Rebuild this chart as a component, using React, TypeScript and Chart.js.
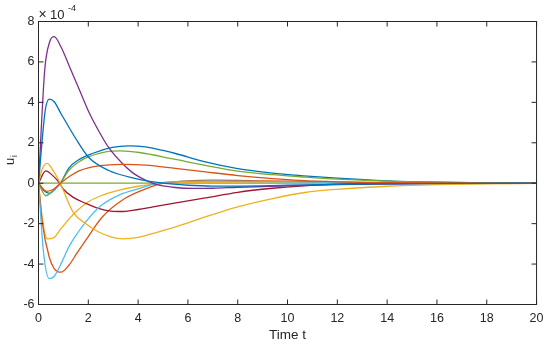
import React, { useEffect, useRef } from "react";
import { Chart, registerables } from "chart.js";

Chart.register(...registerables);

// Values in units of 1e-4
const X_TICKS = [0, 2, 4, 6, 8, 10, 12, 14, 16, 18, 20];
const Y_TICKS = [-6, -4, -2, 0, 2, 4, 6, 8];

const T_BLUE1 = [0, 0.27, 0.43, 0.63, 0.9, 1.5, 2.0, 2.8, 3.9, 5, 6, 7, 8, 10, 12, 14, 17, 20];
const V_BLUE1 = [0, 3.6, 4.16, 4.03, 3.45, 2.2, 1.3, 0.64, 0.23, 0.0, -0.1, -0.14, -0.14, -0.1, -0.06, -0.03, -0.01, 0];

const T_RED1 = [0, 0.32, 0.6, 0.88, 1.3, 1.65, 2.0, 2.5, 3.0, 3.5, 4.3, 5.5, 6.7, 8, 9.4, 10.5, 12, 14, 17, 20];
const V_RED1 = [0, -0.4, -0.3, 0, 0.38, 0.62, 0.76, 0.87, 0.92, 0.93, 0.89, 0.73, 0.56, 0.38, 0.23, 0.14, 0.07, 0.03, 0.01, 0];

const T_YELLOW1 = [0, 0.15, 0.34, 0.55, 0.87, 1.4, 1.9, 2.4, 2.9, 3.4, 4.0, 4.6, 5.4, 6.7, 8, 9.4, 10.7, 12, 14, 16, 18, 20];
const V_YELLOW1 = [0, 0.7, 0.98, 0.7, 0, -1.45, -2.0, -2.4, -2.65, -2.75, -2.68, -2.48, -2.2, -1.67, -1.17, -0.76, -0.46, -0.3, -0.15, -0.07, -0.03, -0.01];

const T_PURPLE = [0, 0.25, 0.45, 0.63, 0.9, 1.25, 1.65, 2.05, 2.55, 2.8, 3.35, 3.8, 4.3, 4.72, 5.4, 6.2, 7, 8, 10, 12, 14, 16, 20];
const V_PURPLE = [0, 5.6, 7.0, 7.25, 6.75, 5.75, 4.6, 3.45, 2.3, 1.8, 1.0, 0.5, 0.15, -0.06, -0.2, -0.26, -0.25, -0.2, -0.13, -0.07, -0.04, -0.02, 0];

const T_GREEN1 = [0, 0.29, 0.55, 0.88, 1.22, 1.62, 2.0, 2.7, 3.3, 4.05, 5.4, 6.7, 8, 9.4, 10.5, 12, 14, 16, 18, 20];
const V_GREEN1 = [0, -0.62, -0.4, 0, 0.64, 1.05, 1.3, 1.55, 1.6, 1.52, 1.2, 0.88, 0.6, 0.42, 0.32, 0.2, 0.1, 0.05, 0.02, 0];

const T_CYAN = [0, 0.2, 0.43, 0.63, 0.9, 1.22, 1.55, 1.9, 2.5, 3.3, 4.0, 4.8, 5.5, 7, 9, 11, 14, 17, 20];
const V_CYAN = [0, -3.4, -4.72, -4.6, -4.0, -3.15, -2.5, -1.91, -1.12, -0.55, -0.28, 0, 0.08, 0.1, 0.08, 0.05, 0.02, 0.01, 0];

const T_DARKRED = [0, 0.29, 0.55, 0.85, 1.0, 1.4, 1.9, 2.4, 2.9, 3.4, 4.0, 4.6, 5.4, 6.7, 8, 9.4, 10.5, 12, 14, 20];
const V_DARKRED = [0, 0.61, 0.4, 0, -0.3, -0.7, -1.0, -1.25, -1.38, -1.4, -1.3, -1.17, -1.0, -0.73, -0.45, -0.25, -0.14, -0.05, -0.01, 0];

const T_BLUE2 = [0, 0.2, 0.45, 0.7, 0.88, 1.22, 1.6, 2.16, 2.96, 3.6, 4.3, 5, 5.5, 6.7, 8, 9.4, 10.5, 12, 14, 16, 18, 20];
const V_BLUE2 = [0, -0.35, -0.5, -0.25, 0, 0.75, 1.15, 1.47, 1.77, 1.85, 1.8, 1.62, 1.47, 1.05, 0.72, 0.5, 0.38, 0.25, 0.12, 0.05, 0.02, 0.01];

const T_RED2 = [0, 0.16, 0.43, 0.63, 0.9, 1.22, 1.55, 1.9, 2.56, 3.36, 4.16, 5, 6, 7, 9, 11, 14, 17, 20];
const V_RED2 = [0, -2.0, -3.65, -4.22, -4.4, -4.06, -3.45, -2.82, -1.67, -0.84, -0.35, 0, 0.12, 0.15, 0.12, 0.08, 0.03, 0.01, 0];

const T_YELLOW2 = [0, 0.17, 0.35, 0.6, 0.9, 1.43, 1.9, 2.5, 3.2, 4.0, 4.8, 6, 8, 10, 12, 15, 20];
const V_YELLOW2 = [0, -1.9, -2.75, -2.7, -2.25, -1.5, -1.0, -0.62, -0.35, -0.15, -0.03, 0.04, 0.06, 0.05, 0.03, 0.01, 0];

const T_GREEN2 = [0, 20];
const V_GREEN2 = [0, 0];

const SERIES: [number[], number[], string][] = [
  [T_BLUE1, V_BLUE1, "#0072BD"],
  [T_RED1, V_RED1, "#D95319"],
  [T_YELLOW1, V_YELLOW1, "#EDB120"],
  [T_PURPLE, V_PURPLE, "#7E2F8E"],
  [T_GREEN1, V_GREEN1, "#77AC30"],
  [T_CYAN, V_CYAN, "#4DBEEE"],
  [T_DARKRED, V_DARKRED, "#A2142F"],
  [T_BLUE2, V_BLUE2, "#0072BD"],
  [T_RED2, V_RED2, "#D95319"],
  [T_YELLOW2, V_YELLOW2, "#EDB120"],
  [T_GREEN2, V_GREEN2, "#77AC30"],
];

const AX = "#262626";
const FONT = "Liberation Sans, Arial, Helvetica, sans-serif";

const decor = {
  id: "matlabDecor",
  afterDraw(chart: any) {
    const { ctx, chartArea: a, scales } = chart;
    const xs = scales.x;
    const ys = scales.y;
    ctx.save();
    ctx.strokeStyle = AX;
    ctx.lineWidth = 1;
    ctx.strokeRect(a.left, a.top, a.right - a.left, a.bottom - a.top);
    const tl = 5;
    ctx.beginPath();
    for (const v of X_TICKS) {
      const px = xs.getPixelForValue(v);
      ctx.moveTo(px, a.bottom);
      ctx.lineTo(px, a.bottom - tl);
      ctx.moveTo(px, a.top);
      ctx.lineTo(px, a.top + tl);
    }
    for (const v of Y_TICKS) {
      const py = ys.getPixelForValue(v);
      ctx.moveTo(a.left, py);
      ctx.lineTo(a.left + tl, py);
      ctx.moveTo(a.right, py);
      ctx.lineTo(a.right - tl, py);
    }
    ctx.stroke();

    ctx.fillStyle = AX;
    // x title
    ctx.font = `13.5px ${FONT}`;
    ctx.textAlign = "center";
    ctx.textBaseline = "alphabetic";
    ctx.fillText("Time t", (a.left + a.right) / 2, 339);

    // exponent label
    ctx.textAlign = "left";
    ctx.font = `14px ${FONT}`;
    ctx.fillText("\u00d7", a.left, 18.5);
    ctx.font = `13px ${FONT}`;
    ctx.fillText("10", a.left + 11.5, 18.5);
    ctx.font = `9px ${FONT}`;
    ctx.fillText("-4", a.left + 29.5, 10.5);

    // y title u_i
    ctx.translate(13.5, (a.top + a.bottom) / 2);
    ctx.rotate(-Math.PI / 2);
    ctx.font = `13px ${FONT}`;
    ctx.textAlign = "left";
    ctx.fillText("u", -2, 0);
    const uw = ctx.measureText("u").width;
    ctx.font = `9.5px ${FONT}`;
    ctx.fillText("i", -2 + uw + 0.5, 3);
    ctx.restore();
  },
};

export default function App() {
  const ref = useRef<HTMLCanvasElement | null>(null);
  useEffect(() => {
    if (!ref.current) return;
    const datasets = SERIES.map(([t, v, c]) => ({
      data: t.map((x, i) => ({ x, y: v[i] })),
      borderColor: c,
      backgroundColor: c,
      borderWidth: 1.3,
      pointRadius: 0,
      fill: false,
      cubicInterpolationMode: "monotone" as const,
    }));
    const tickFont = { family: FONT, size: 12.5 };
    const chart = new Chart(ref.current, {
      type: "line",
      data: { datasets },
      plugins: [decor],
      options: {
        animation: false,
        responsive: false,
        devicePixelRatio: 1,
        layout: { padding: { top: 21.5, right: 11.5, left: 0, bottom: 0 } },
        plugins: { legend: { display: false }, tooltip: { enabled: false } },
        scales: {
          x: {
            type: "linear",
            min: 0,
            max: 20,
            afterBuildTicks: (s: any) => {
              s.ticks = X_TICKS.map((value) => ({ value }));
            },
            ticks: { color: AX, font: tickFont, padding: 6.5, maxRotation: 0, autoSkip: false },
            grid: { display: false, drawTicks: false },
            border: { display: false },
            afterFit: (s: any) => {
              s.height = 39.5;
            },
          },
          y: {
            type: "linear",
            min: -6,
            max: 8,
            afterBuildTicks: (s: any) => {
              s.ticks = Y_TICKS.map((value) => ({ value }));
            },
            ticks: { color: AX, font: tickFont, padding: 4, autoSkip: false },
            grid: { display: false, drawTicks: false },
            border: { display: false },
            afterFit: (s: any) => {
              s.width = 38.5;
            },
          },
        },
      },
    });
    return () => chart.destroy();
  }, []);
  return (
    <div style={{ position: "absolute", left: 0, top: 0, width: 550, height: 344, background: "#fff" }}>
      <canvas ref={ref} width={550} height={344} style={{ display: "block" }} />
    </div>
  );
}
